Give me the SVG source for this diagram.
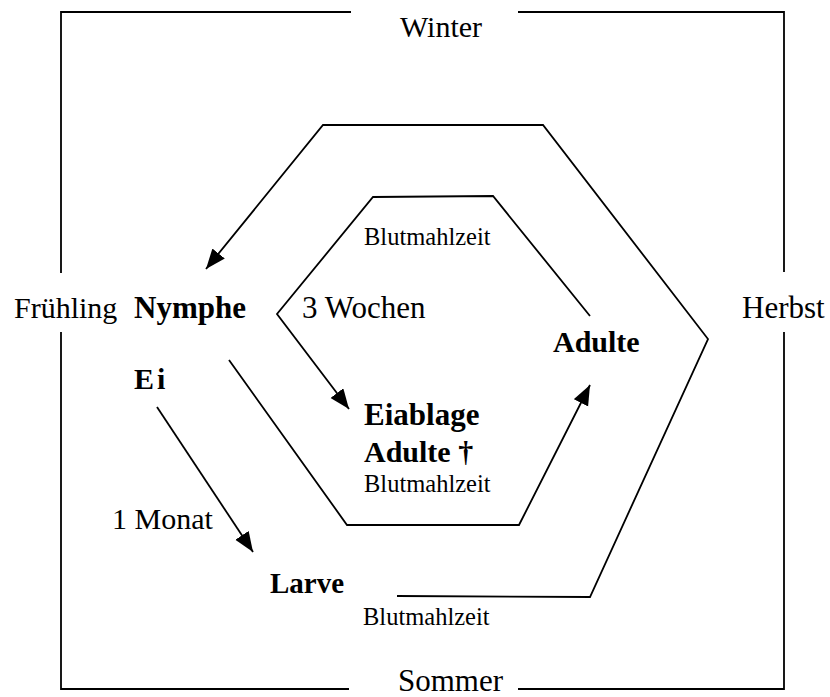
<svg xmlns="http://www.w3.org/2000/svg" width="830" height="697" viewBox="0 0 830 697">
<style>
  .ln { fill: none; stroke: #000; stroke-width: 1.8; stroke-linejoin: miter; }
  .t { font-family: "Liberation Serif", "Times New Roman", serif; font-size: 30px; fill: #000; }
  .b { font-weight: bold; }
  .s { font-size: 24.5px; }
</style>
<defs>
  <marker id="ah" markerUnits="userSpaceOnUse" markerWidth="22" markerHeight="18" refX="20" refY="8" orient="auto">
    <path d="M0,0 L20,8 L0,16 z" fill="#000"/>
  </marker>
</defs>
<rect width="830" height="697" fill="#fff"/>

<g id="seasons">
  <path class="ln" d="M351,12 H61 V273 M61,332 V689 H349 M518,689 H784 V332 M784,272 V12 H518"/>
  <text class="t" x="400" y="37">Winter</text>
  <text class="t" x="14" y="318">Frühling</text>
  <text class="t" x="742" y="318" style="font-size:31px">Herbst</text>
  <text class="t" x="398" y="691" style="font-size:31px">Sommer</text>
</g>

<g id="connectors">
  <polyline class="ln" points="397,596 590,597 708,339 543,125 323,125 206,269" marker-end="url(#ah)"/>
  <polyline class="ln" points="590,316 493,196 373,197 277,314 349,409" marker-end="url(#ah)"/>
  <polyline class="ln" points="229,360 347,525 519,525 590,385" marker-end="url(#ah)"/>
  <line class="ln" x1="157" y1="407" x2="253" y2="552" marker-end="url(#ah)"/>
  <text class="t s" x="364" y="245">Blutmahlzeit</text>
  <text class="t" x="302" y="318" style="font-size:31px">3 Wochen</text>
  <text class="t" x="112" y="529">1 Monat</text>
  <text class="t s" x="363" y="625">Blutmahlzeit</text>
</g>

<g id="nymphe">
  <text class="t b" x="134" y="318" style="font-size:31px">Nymphe</text>
</g>
<g id="ei">
  <text class="t b" x="134" y="389" letter-spacing="3">Ei</text>
</g>
<g id="larve">
  <text class="t b" x="270" y="593" style="font-size:29px">Larve</text>
</g>
<g id="adulte">
  <text class="t b" x="553" y="352">Adulte</text>
</g>
<g id="eiablage">
  <text class="t b" x="364" y="425" style="font-size:31px">Eiablage</text>
  <text class="t b" x="364" y="462">Adulte †</text>
  <text class="t s" x="364" y="492">Blutmahlzeit</text>
</g>
</svg>
